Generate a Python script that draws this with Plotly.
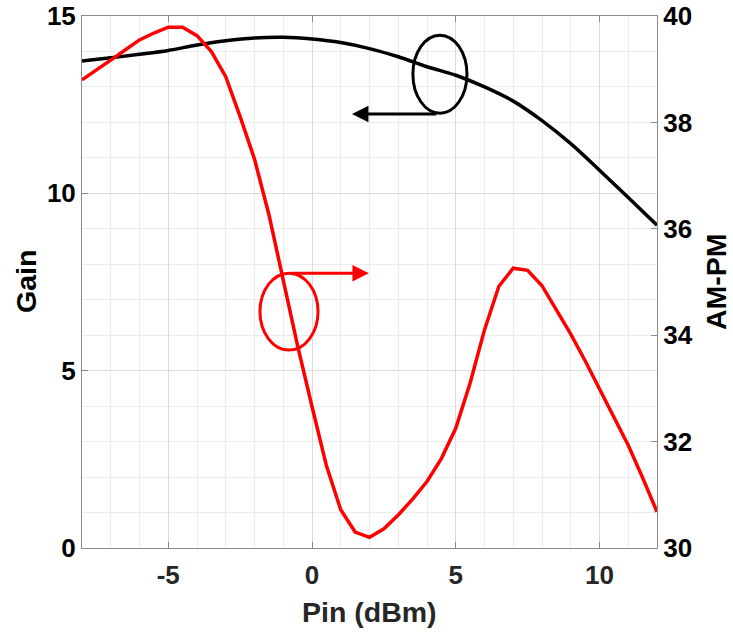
import plotly.graph_objects as go

# Input power sweep (dBm)
pin_gain = [-8, -7, -6, -5, -4, -3, -2, -1, 0, 1, 2, 3, 4, 5, 6, 7, 8, 9, 10, 11, 12]
gain = [13.73, 13.82, 13.92, 14.03, 14.18, 14.30, 14.38, 14.40, 14.35, 14.25, 14.08,
        13.85, 13.57, 13.33, 13.00, 12.60, 12.05, 11.40, 10.65, 9.88, 9.10]

pin_ampm = [-8, -7.5, -7, -6.5, -6, -5.5, -5, -4.5, -4, -3.5, -3, -2.5, -2, -1.5, -1, -0.5,
            0, 0.5, 1, 1.5, 2, 2.5, 3, 3.5, 4, 4.5, 5, 5.5, 6, 6.5, 7, 7.5, 8, 8.5, 9,
            9.5, 10, 10.5, 11, 11.5, 12]
ampm = [38.80, 38.98, 39.17, 39.36, 39.55, 39.68, 39.79, 39.79, 39.63, 39.33, 38.86,
        38.11, 37.31, 36.27, 35.05, 33.80, 32.66, 31.55, 30.72, 30.30, 30.20, 30.36,
        30.62, 30.92, 31.25, 31.68, 32.25, 33.10, 34.10, 34.92, 35.26, 35.22, 34.93,
        34.47, 34.02, 33.52, 32.99, 32.45, 31.93, 31.32, 30.68]

x_ticks = [-5, 0, 5, 10]
x_ticktext = ["-5", "0", "5", "10"]
gain_ticks = [0, 5, 10, 15]
ampm_ticks = [30, 32, 34, 36, 38, 40]

FONT = "Liberation Sans"
AXIS_GRAY = "#8a8a8a"

fig = go.Figure()
fig.add_trace(go.Scatter(x=pin_gain, y=gain, mode="lines", line=dict(color="black", width=3.5, shape="spline"),
                         yaxis="y", showlegend=False))
fig.add_trace(go.Scatter(x=pin_ampm, y=ampm, mode="lines", line=dict(color="#ff0000", width=3.5),
                         yaxis="y2", showlegend=False))

tickfont = dict(family=FONT, size=26, color="black", weight="bold")

fig.update_layout(
    width=733, height=633,
    margin=dict(l=82, r=76, t=16, b=85, autoexpand=False),
    paper_bgcolor="white", plot_bgcolor="white",
    showlegend=False,
    xaxis=dict(range=[-8, 12], tickvals=x_ticks, ticktext=x_ticktext, ticks="inside", ticklen=6,
               tickcolor=AXIS_GRAY, automargin=False, ticklabelstandoff=4,
               showline=True, linecolor=AXIS_GRAY, linewidth=1, mirror="ticks",
               showgrid=True, gridcolor="#dcdcdc", gridwidth=1, zeroline=False,
               minor=dict(dtick=1, showgrid=True, gridcolor="#ececec", gridwidth=1),
               tickfont=dict(family=FONT, size=26, color="#262626", weight="bold")),
    yaxis=dict(range=[0, 15], tickvals=gain_ticks, ticks="inside", ticklen=6, tickcolor=AXIS_GRAY,
               automargin=False,
               showline=True, linecolor=AXIS_GRAY, linewidth=1,
               showgrid=True, gridcolor="#dcdcdc", gridwidth=1, zeroline=False,
               minor=dict(dtick=1, showgrid=True, gridcolor="#ececec", gridwidth=1),
               tickfont=tickfont),
    yaxis2=dict(range=[30, 40], tickvals=ampm_ticks, overlaying="y", side="right",
                ticks="inside", ticklen=6, tickcolor=AXIS_GRAY, automargin=False,
                showline=True, linecolor=AXIS_GRAY, linewidth=1,
                showgrid=False, zeroline=False, tickfont=tickfont),
)

# Axis titles
title_font = dict(family=FONT, size=28.5, color="black", weight="bold")
fig.add_annotation(text="Pin (dBm)", xref="paper", yref="paper", x=0.5, y=0, yshift=-64,
                   showarrow=False, font=dict(family=FONT, size=28.5, color="#262626", weight="bold"),
                   xanchor="center", yanchor="middle")
fig.add_annotation(text="Gain", xref="paper", yref="paper", x=0, y=0.5, xshift=-56,
                   textangle=-90, showarrow=False, font=title_font, xanchor="center", yanchor="middle")
fig.add_annotation(text="AM-PM", xref="paper", yref="paper", x=1, y=0.5, xshift=59,
                   textangle=-90, showarrow=False, font=title_font, xanchor="center", yanchor="middle")

# Curve markers: ellipse + arrow pointing to the axis each curve belongs to
fig.add_shape(type="circle", xref="x", yref="y", x0=3.51, x1=5.39, y0=12.26, y1=14.46,
              line=dict(color="black", width=3))
fig.add_annotation(xref="x", yref="y", axref="x", ayref="y", x=1.39, y=12.24, ax=4.38, ay=12.24,
                   text="", showarrow=True, arrowhead=2, arrowsize=1.1, arrowwidth=3,
                   arrowcolor="black", standoff=0, startstandoff=0)

fig.add_shape(type="circle", xref="x", yref="y", x0=-1.81, x1=0.21, y0=5.58, y1=7.75,
              line=dict(color="#ff0000", width=3))
fig.add_annotation(xref="x", yref="y", axref="x", ayref="y", x=1.98, y=7.75, ax=-0.77, ay=7.75,
                   text="", showarrow=True, arrowhead=2, arrowsize=1.1, arrowwidth=3,
                   arrowcolor="#ff0000", standoff=0, startstandoff=0)

fig.write_html("out.html")
